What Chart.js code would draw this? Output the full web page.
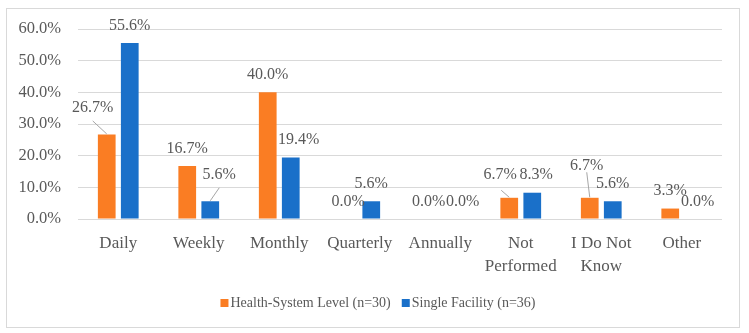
<!DOCTYPE html>
<html>
<head>
<meta charset="utf-8">
<script src="https://cdn.jsdelivr.net/npm/chart.js@4/dist/chart.umd.min.js"></script>
<style>
  html, body { margin: 0; padding: 0; background: #ffffff; }
  #wrap { width: 749px; height: 333px; }
</style>
</head>
<body>
<div id="wrap"><canvas id="c" width="749" height="333"></canvas></div>
<script>
// ---- data ----
const categories = [['Daily'], ['Weekly'], ['Monthly'], ['Quarterly'], ['Annually'], ['Not', 'Performed'], ['I Do Not', 'Know'], ['Other']];
const seriesNames = ['Health-System Level (n=30)', 'Single Facility (n=36)'];
const healthSystem = [26.7, 16.7, 40.0, 0.0, 0.0, 6.7, 6.7, 3.3];
const singleFacility = [55.6, 5.6, 19.4, 5.6, 0.0, 8.3, 5.6, 0.0];
const yTickValues = [0, 10, 20, 30, 40, 50, 60];

// ---- styling / label placement (not data) ----
const COLORS = ['#FA7D23', '#1A70C9'];
const TEXT = '#595959';
const FONT = '"Liberation Serif", "DejaVu Serif", serif';
// manual nudges of data labels relative to default spot above the bar (dx, dy px)
const labelShift = [
  [[-14, -9], [0, 0], [0, 0], [0, 0], [0, 0], [-9, -5], [-3, -14], [0, 0]],
  [[0, 0], [9, -9], [8, 0], [0, 0], [11, 0], [4, 0], [0, 0], [4.5, 0]]
];
// leader line start relative to label centre for moved labels
const leaders = [
  { 0: [0, 13], 5: [1, 15], 6: [0, 6] },
  { 1: [0, 13] }
];

const bgPlugin = {
  id: 'bg',
  beforeDraw(chart) {
    const ctx = chart.ctx;
    ctx.save();
    ctx.fillStyle = '#ffffff';
    ctx.fillRect(0, 0, chart.width, chart.height);
    ctx.strokeStyle = '#d9d9d9';
    ctx.lineWidth = 1;
    ctx.strokeRect(6.5, 8.5, chart.width - 10 - 6, chart.height - 6 - 8);
    ctx.restore();
  }
};

const labelPlugin = {
  id: 'valueLabels',
  afterDatasetsDraw(chart) {
    const ctx = chart.ctx;
    ctx.save();
    ctx.font = '16px ' + FONT;
    ctx.fillStyle = TEXT;
    ctx.textAlign = 'center';
    ctx.textBaseline = 'middle';
    chart.data.datasets.forEach((ds, di) => {
      const meta = chart.getDatasetMeta(di);
      meta.data.forEach((bar, i) => {
        const v = ds.data[i];
        const sh = labelShift[di][i];
        const lx = bar.x + sh[0];
        const ly = bar.y - 17.5 + sh[1];
        const ld = leaders[di][i];
        if (ld) {
          ctx.save();
          ctx.strokeStyle = '#a6a6a6';
          ctx.lineWidth = 1;
          ctx.beginPath();
          ctx.moveTo(lx + ld[0], ly + ld[1]);
          ctx.lineTo(bar.x, bar.y - 0.5);
          ctx.stroke();
          ctx.restore();
        }
        ctx.fillText(v.toFixed(1) + '%', lx, ly);
      });
    });
    ctx.restore();
  }
};

const legendPlugin = {
  id: 'customLegend',
  afterDraw(chart) {
    const ctx = chart.ctx;
    ctx.save();
    ctx.font = '14px ' + FONT;
    ctx.textBaseline = 'middle';
    ctx.textAlign = 'left';
    const box = 8, gapBox = 2, gapItem = 11;
    const items = chart.data.datasets.map(d => ({ text: d.label, color: d.backgroundColor, w: ctx.measureText(d.label).width }));
    let total = 0;
    items.forEach((it, k) => { total += box + gapBox + it.w + (k ? gapItem : 0); });
    let x = chart.width / 2 + 3.5 - total / 2;
    const cy = 303;
    items.forEach((it) => {
      ctx.fillStyle = it.color;
      ctx.fillRect(x, cy - 4, box, box);
      x += box + gapBox;
      ctx.fillStyle = TEXT;
      ctx.fillText(it.text, x, cy);
      x += it.w + gapItem;
    });
    ctx.restore();
  }
};

new Chart(document.getElementById('c'), {
  type: 'bar',
  data: {
    labels: categories,
    datasets: [
      { label: seriesNames[0], data: healthSystem, backgroundColor: COLORS[0], borderWidth: 0 },
      { label: seriesNames[1], data: singleFacility, backgroundColor: COLORS[1], borderWidth: 0 }
    ]
  },
  options: {
    responsive: false,
    animation: false,
    devicePixelRatio: 1,
    categoryPercentage: 0.572,
    barPercentage: 0.77,
    layout: { padding: { top: 29, right: 27, bottom: 0, left: 0 } },
    plugins: {
      legend: { display: false },
      tooltip: { enabled: false }
    },
    scales: {
      x: {
        grid: { display: false, drawTicks: false },
        border: { display: false },
        ticks: {
          color: TEXT,
          font: { family: FONT, size: 17, lineHeight: 1.35 },
          padding: 13,
          maxRotation: 0,
          autoSkip: false
        },
        afterFit(scale) { scale.height = 114; }
      },
      y: {
        min: 0,
        max: 60,
        afterBuildTicks(scale) { scale.ticks = yTickValues.map(v => ({ value: v })); },
        grid: { color: '#d9d9d9', lineWidth: 1, drawTicks: false },
        border: { display: false },
        ticks: {
          color: TEXT,
          font: { family: FONT, size: 16.5 },
          padding: 17,
          callback: (v) => Number(v).toFixed(1) + '%'
        },
        afterFit(scale) { scale.width = 78; }
      }
    }
  },
  plugins: [bgPlugin, labelPlugin, legendPlugin]
});
</script>
</body>
</html>
